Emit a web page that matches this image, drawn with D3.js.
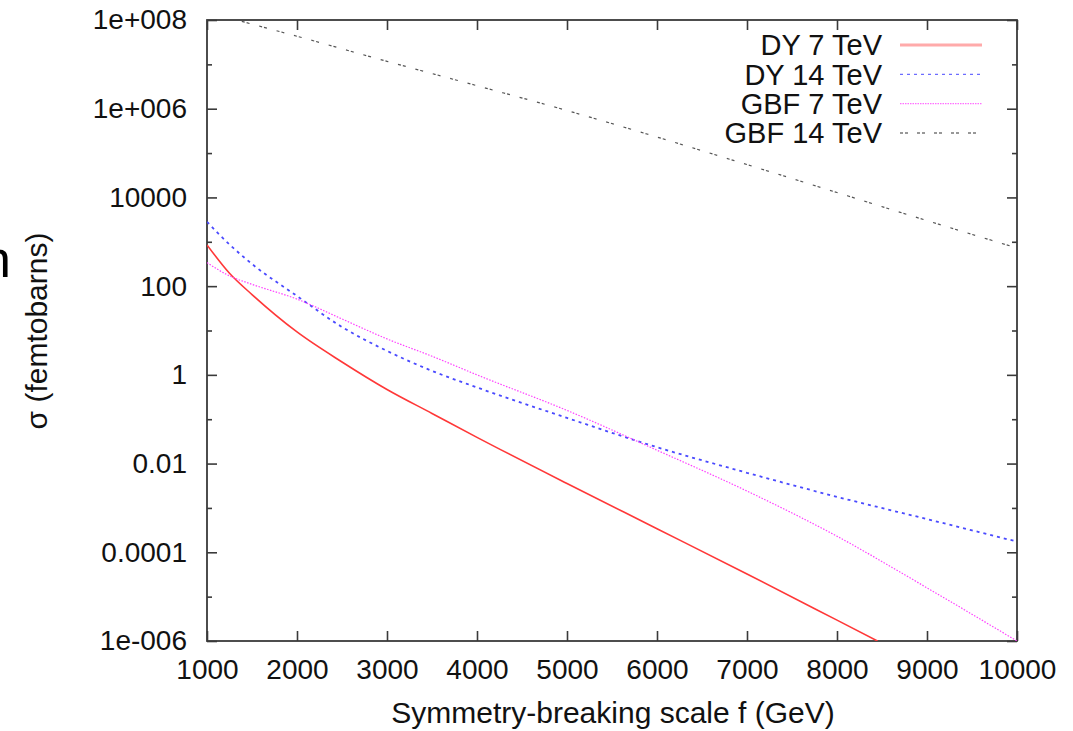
<!DOCTYPE html>
<html>
<head>
<meta charset="utf-8">
<script src="https://cdn.jsdelivr.net/npm/d3@7"></script>
<style>
  html, body { margin: 0; padding: 0; background: #fff; }
  svg { display: block; font-family: "Liberation Sans", Arial, Helvetica, sans-serif; }
</style>
</head>
<body>
<svg id="chart" width="1073" height="731"></svg>
<script>
// ---- data ----
const dy7F   = [1000, 1250, 1500, 2000, 2500, 3000, 3500, 4000, 5000, 6000, 7000, 8000, 8450];
const dy7Val = [851, 195, 64.6, 9.27, 1.95, 0.468, 0.135, 0.039, 0.00355, 3.4e-4, 3.24e-5, 2.95e-6, 1e-6];

const dy14F   = [1000, 1250, 1500, 2000, 2500, 3000, 3500, 4000, 5000, 6000, 7000, 8000, 9000, 10000];
const dy14Val = [2820, 870, 316, 60, 12, 3.47, 1.23, 0.52, 0.107, 0.0234, 0.0062, 0.00178, 5.6e-4, 1.74e-4];

const gbf7F   = [1000, 1250, 1500, 2000, 2500, 3000, 3500, 4000, 5000, 6000, 7000, 8000, 9000, 10000];
const gbf7Val = [339, 170, 110, 51, 18.2, 6.46, 2.63, 1.0, 0.158, 0.02, 0.0024, 2.3e-4, 1.58e-5, 1e-6];

const gbf14F   = [1000, 2000, 3000, 4000, 5000, 6000, 7000, 8000, 9000, 10000];
const gbf14Val = [1.5e8, 4.3e7, 1.17e7, 3.3e6, 9.1e5, 2.3e5, 5.5e4, 1.29e4, 3.0e3, 724];

const seriesNames = ["DY 7 TeV", "DY 14 TeV", "GBF 7 TeV", "GBF 14 TeV"];

const xTicks = [1000, 2000, 3000, 4000, 5000, 6000, 7000, 8000, 9000, 10000];
const yMajorTicks  = [1e8, 1e6, 1e4, 100, 1, 0.01, 0.0001, 1e-6];
const yMajorLabels = ["1e+008", "1e+006", "10000", "100", "1", "0.01", "0.0001", "1e-006"];
const yMinorTicks  = [1e7, 1e5, 1e3, 10, 0.1, 0.001, 1e-5];

const xTitle = "Symmetry-breaking scale f (GeV)";
const yTitle = "σ (femtobarns)";

// ---- layout ----
const L = 207, R = 1017, T = 20, B = 641;
const svg = d3.select("#chart");

const x = d3.scaleLinear().domain([1000, 10000]).range([L, R]);
const y = d3.scaleLog().domain([1e-6, 1e8]).range([B, T]);

const FONT = 28, FONT_BIG = 30, FONT_LEG = 29;
const axisColor = "#3a3a3a";

svg.append("defs").append("clipPath").attr("id", "plotclip")
  .append("rect").attr("x", L).attr("y", T).attr("width", R - L).attr("height", B - T);

// glyph cut off at the left edge of the source image
svg.append("text").attr("x", -18).attr("y", 277)
  .attr("font-size", 52).attr("fill", "#000").text("n");

// ---- axes (ticks inward on all four sides) ----
const gAxes = svg.append("g");

const xBottom = d3.axisBottom(x).tickValues(xTicks).tickSize(-10).tickPadding(18).tickFormat(d3.format("d"));
const gxb = gAxes.append("g").attr("transform", `translate(0,${B})`).call(xBottom);
const xTop = d3.axisTop(x).tickValues(xTicks).tickSize(-10).tickFormat("");
const gxt = gAxes.append("g").attr("transform", `translate(0,${T})`).call(xTop);

const yLeft = d3.axisLeft(y).tickValues(yMajorTicks).tickSize(-10).tickPadding(20)
  .tickFormat(d => yMajorLabels[yMajorTicks.indexOf(d)]);
const gyl = gAxes.append("g").attr("transform", `translate(${L},0)`).call(yLeft);
const yRight = d3.axisRight(y).tickValues(yMajorTicks).tickSize(-10).tickFormat("");
const gyr = gAxes.append("g").attr("transform", `translate(${R},0)`).call(yRight);
const yLeftMinor = d3.axisLeft(y).tickValues(yMinorTicks).tickSize(-5).tickFormat("");
const gylm = gAxes.append("g").attr("transform", `translate(${L},0)`).call(yLeftMinor);
const yRightMinor = d3.axisRight(y).tickValues(yMinorTicks).tickSize(-5).tickFormat("");
const gyrm = gAxes.append("g").attr("transform", `translate(${R},0)`).call(yRightMinor);

[gxb, gxt, gyl, gyr, gylm, gyrm].forEach(g => {
  g.select(".domain").remove();
  g.selectAll(".tick line").attr("stroke", axisColor).attr("stroke-width", 1.6);
  g.selectAll(".tick text").attr("font-size", FONT).attr("fill", "#111")
    .attr("font-family", "'Liberation Sans', Arial, sans-serif");
});
gxb.selectAll(".tick text").attr("dy", "0.71em");

gAxes.append("rect").attr("x", L).attr("y", T).attr("width", R - L).attr("height", B - T)
  .attr("fill", "none").attr("stroke", axisColor).attr("stroke-width", 1.8);

// ---- axis titles ----
svg.append("text").attr("x", (L + R) / 2 + 1).attr("y", 723)
  .attr("text-anchor", "middle").attr("font-size", FONT_BIG).attr("fill", "#111").text(xTitle);
svg.append("text").attr("transform", `translate(47,331) rotate(-90)`)
  .attr("text-anchor", "middle").attr("font-size", FONT_BIG).attr("fill", "#111").text(yTitle);

// ---- curves ----
const styles = [
  { f: dy7F,   v: dy7Val,   color: "#ff3838", width: 1.6, dash: null,       lcolor: "#ffaaaa", lwidth: 3.2, ldash: null },
  { f: dy14F,  v: dy14Val,  color: "#4a4aff", width: 1.8, dash: "3,4",      lcolor: "#6c6cff", lwidth: 1.4, ldash: "3,4" },
  { f: gbf7F,  v: gbf7Val,  color: "#ff40ff", width: 1.2, dash: "1.5,1.5",  lcolor: "#ff70ff", lwidth: 1.4, ldash: "1.5,1" },
  { f: gbf14F, v: gbf14Val, color: "#555555", width: 1.2, dash: "3,2,3,10", lcolor: "#777777", lwidth: 1.3, ldash: "3,2,3,9" }
];

const line = d3.line()
  .x(d => x(d[0]))
  .y(d => y(d[1]))
  .curve(d3.curveMonotoneX);

const gLines = svg.append("g").attr("clip-path", "url(#plotclip)");
styles.forEach(s => {
  const pts = s.f.map((f, i) => [f, s.v[i]]);
  gLines.append("path").datum(pts)
    .attr("d", line)
    .attr("fill", "none")
    .attr("stroke", s.color)
    .attr("stroke-width", s.width)
    .attr("stroke-dasharray", s.dash);
});

// ---- legend ----
const legendRowY = d3.scaleLinear().domain([0, 3]).range([45, 133]);
const gLeg = svg.append("g");
seriesNames.forEach((name, i) => {
  const s = styles[i];
  const cy = legendRowY(i);
  gLeg.append("text").attr("x", 882).attr("y", cy).attr("dy", "0.36em")
    .attr("text-anchor", "end").attr("font-size", FONT_LEG).attr("fill", "#111").text(name);
  gLeg.append("line").attr("x1", 900).attr("x2", 982).attr("y1", cy).attr("y2", cy)
    .attr("stroke", s.lcolor).attr("stroke-width", s.lwidth).attr("stroke-dasharray", s.ldash);
});
</script>
</body>
</html>
